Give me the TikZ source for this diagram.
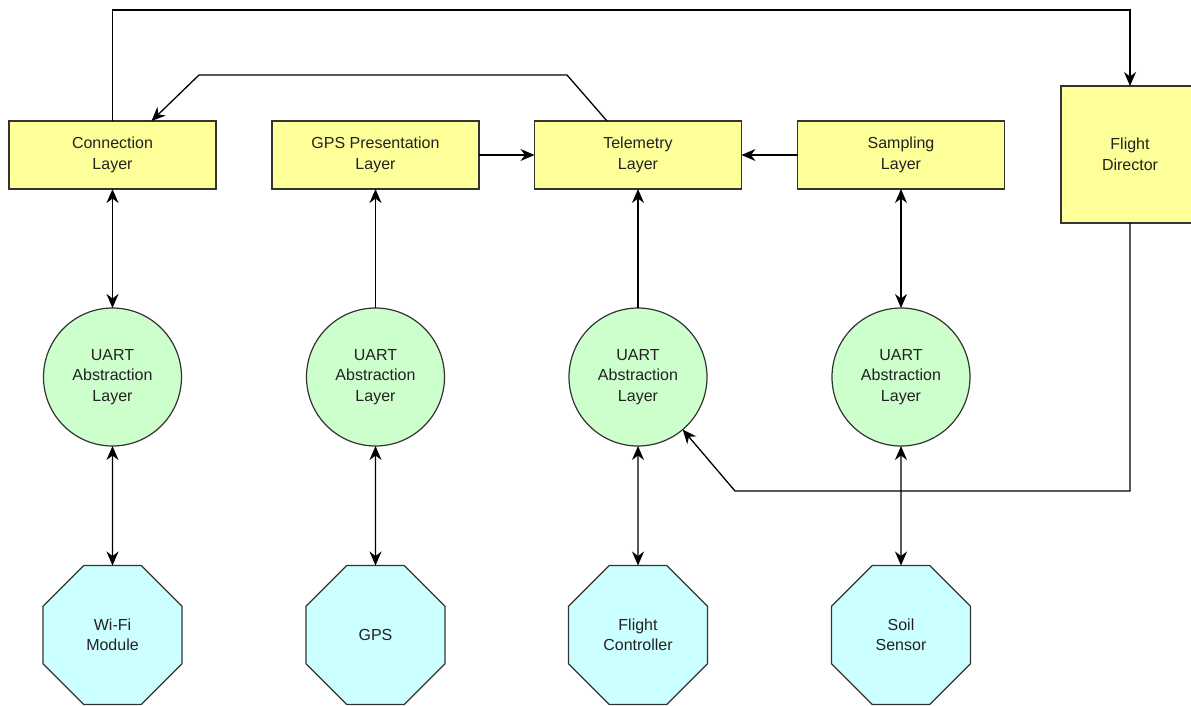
\documentclass[tikz,border=0pt]{standalone}
\usepackage{fontspec}
\setmainfont{Liberation Sans}
\usetikzlibrary{shapes.geometric,arrows.meta}
\definecolor{boxyellow}{HTML}{FFFF99}
\definecolor{circgreen}{HTML}{CCFFCC}
\definecolor{octcyan}{HTML}{CCFFFF}
\definecolor{edgegray}{HTML}{333333}
\definecolor{txt}{HTML}{222222}
\tikzset{
  every node/.style={font=\fontsize{16}{20.5}\selectfont, text=txt, align=center},
  layerbox/.style={draw=edgegray, line width=1.2pt, fill=boxyellow, rectangle, minimum width=207pt, minimum height=68pt, inner sep=0pt, outer sep=0pt},
  fdbox/.style={draw=edgegray, line width=1.2pt, fill=boxyellow, rectangle, minimum width=138pt, minimum height=137pt, inner sep=0pt, outer sep=0pt},
  uart/.style={draw=edgegray, line width=1.2pt, fill=circgreen, circle, minimum size=138pt, inner sep=0pt, outer sep=0pt},
  device/.style={draw=edgegray, line width=1.2pt, fill=octcyan, regular polygon, regular polygon sides=8, minimum size=150.4pt, inner sep=0pt, outer sep=0pt},
  conn/.style={line width=1.3pt, draw=black},
  tip/.style={-{Stealth[length=14pt,width=12pt,inset=4.5pt]}},
  twotip/.style={{Stealth[length=14pt,width=12pt,inset=4.5pt]}-{Stealth[length=14pt,width=12pt,inset=4.5pt]}},
}
\begin{document}
\begin{tikzpicture}[x=1pt,y=-1pt]
\useasboundingbox (0,0) rectangle (1191,705);
% top row
\node[layerbox] (cl) at (112.5,155) {Connection\\Layer};
\node[layerbox] (gp) at (375.5,155) {GPS Presentation\\Layer};
\node[layerbox] (tl) at (638,155) {Telemetry\\Layer};
\node[layerbox] (sl) at (901,155) {Sampling\\Layer};
\node[fdbox] (fd) at (1130,154.5) {Flight\\Director};
% middle row
\node[uart] (u1) at (112.5,377) {UART\\Abstraction\\Layer};
\node[uart] (u2) at (375.5,377) {UART\\Abstraction\\Layer};
\node[uart] (u3) at (638,377) {UART\\Abstraction\\Layer};
\node[uart] (u4) at (901,377) {UART\\Abstraction\\Layer};
% bottom row
\node[device] (d1) at (112.5,635) {Wi-Fi\\Module};
\node[device] (d2) at (375.5,635) {GPS};
\node[device] (d3) at (638,635) {Flight\\Controller};
\node[device] (d4) at (901,635) {Soil\\Sensor};
% helper coordinates
\coordinate (topc) at (600,10);
\coordinate (t1) at (567,75);
\coordinate (t2) at (199,75);
\coordinate (b1) at (735,491);
% connectors
\draw[conn,twotip] (cl.south) -- (u1.north);
\draw[conn,twotip] (u1.south) -- (d1.north);
\draw[conn,tip] (u2.north) -- (gp.south);
\draw[conn,twotip] (u2.south) -- (d2.north);
\draw[conn,tip] (u3.north) -- (tl.south);
\draw[conn,twotip] (u3.south) -- (d3.north);
\draw[conn,twotip] (sl.south) -- (u4.north);
\draw[conn,twotip] (u4.south) -- (d4.north);
\draw[conn,tip] (gp.east) -- (tl.west);
\draw[conn,tip] (sl.west) -- (tl.east);
\draw[conn,tip] (cl.north) |- (topc) -| (fd.north);
\draw[conn,tip] ([xshift=-31pt]tl.north) -- (t1) -- (t2) -- ([xshift=39pt]cl.north);
\draw[conn,tip] (fd.south) |- (b1) -- (u3);
\end{tikzpicture}
\end{document}
